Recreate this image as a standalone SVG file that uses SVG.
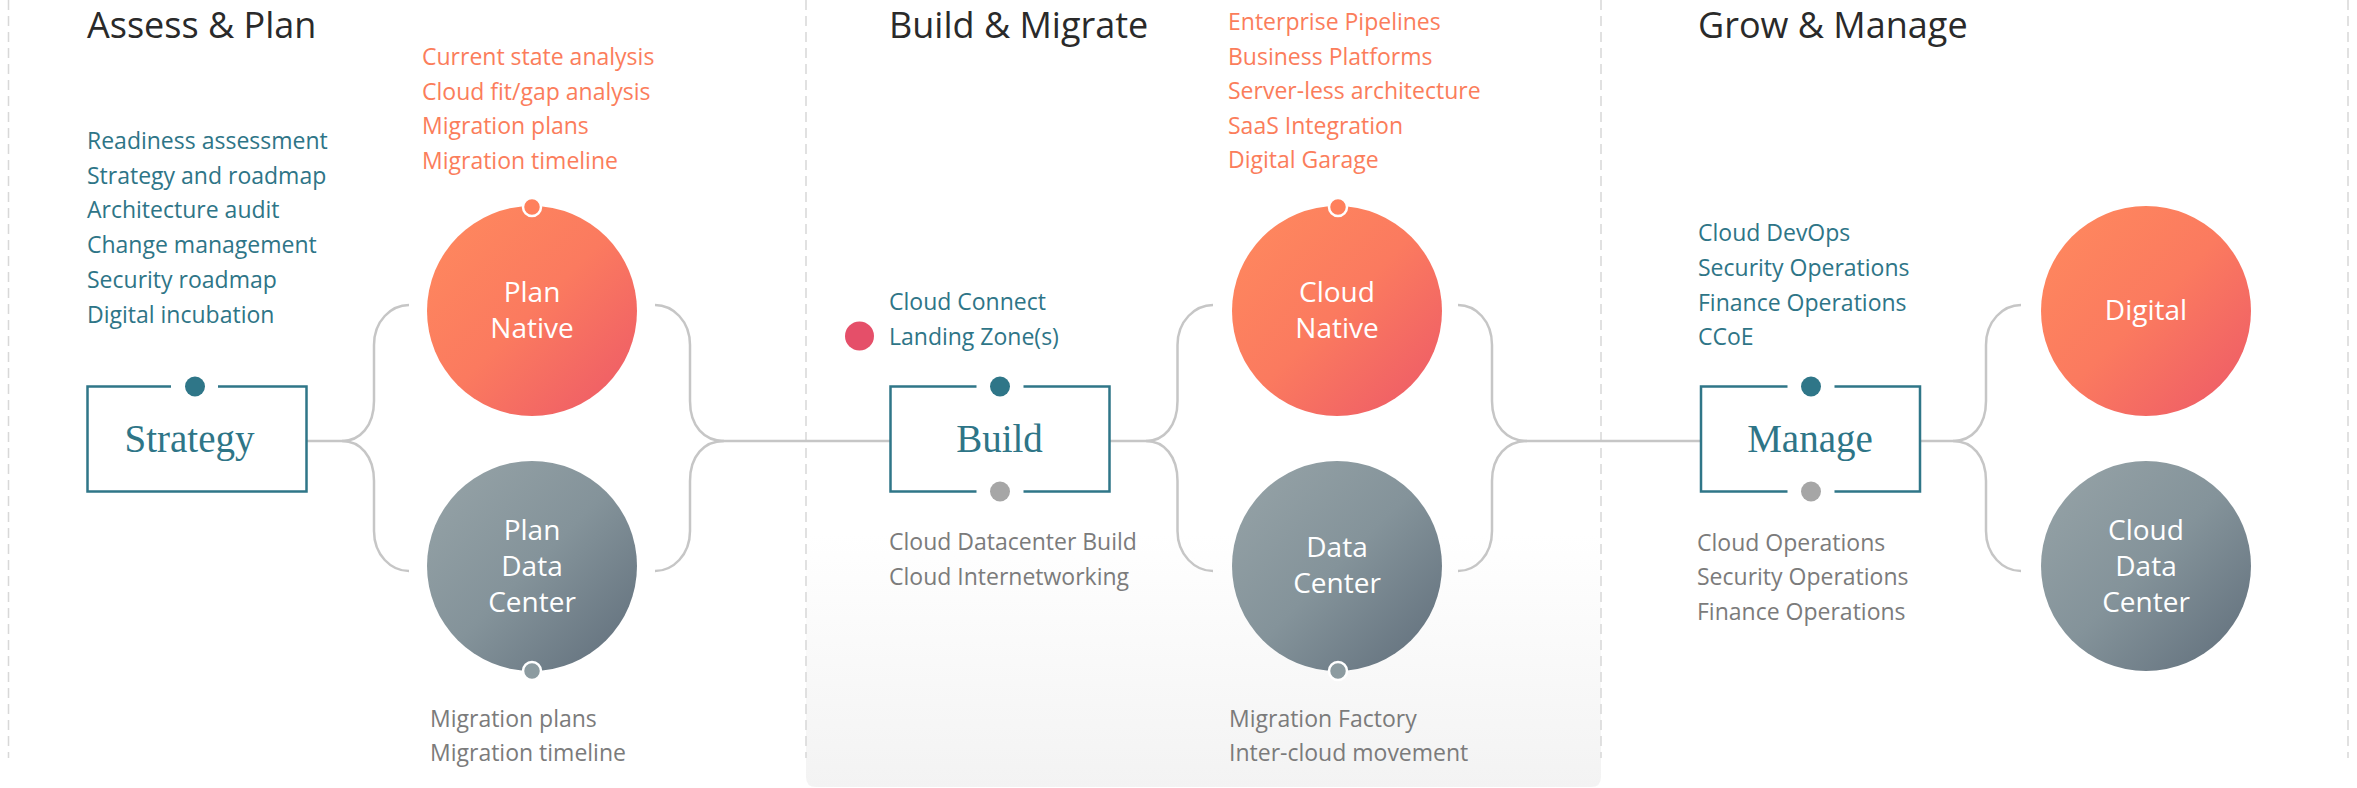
<svg xmlns="http://www.w3.org/2000/svg" width="2357" height="788" viewBox="0 0 2357 788">
<style>
.title{font-family:"Open Sans","Liberation Sans",sans-serif;font-size:36px;fill:#2a2a2a}
.li{font-family:"Open Sans","Liberation Sans",sans-serif;font-size:23px}
.teal{fill:#2e7587}
.orange{fill:#fb7d5b}
.gray{fill:#7b7b7b}
.ctext{font-family:"Open Sans","Liberation Sans",sans-serif;font-size:28px;fill:#ffffff;text-anchor:middle}
.btext{font-family:"Liberation Serif","DejaVu Serif",serif;font-size:39px;fill:#2e7587;text-anchor:middle}
.box{fill:none;stroke:#2f7688;stroke-width:2.5}
.conn{fill:none;stroke:#c6c6c6;stroke-width:2.5}
.dash{stroke:#d8d8d8;stroke-width:1.5;stroke-dasharray:10 6}
.dteal{fill:#2f7688}
.dgray{fill:#a6a6a6}
</style>
<defs>
<linearGradient id="gOrange" x1="0" y1="0" x2="1" y2="1">
<stop offset="0" stop-color="#ff8a5e"/>
<stop offset="0.5" stop-color="#fb7a5f"/>
<stop offset="1" stop-color="#ec5868"/>
</linearGradient>
<linearGradient id="gGray" x1="0" y1="0" x2="1" y2="1">
<stop offset="0" stop-color="#97a4a8"/>
<stop offset="0.5" stop-color="#84939a"/>
<stop offset="1" stop-color="#5f6d7a"/>
</linearGradient>
<linearGradient id="gPanel" x1="0" y1="0" x2="0" y2="1">
<stop offset="0" stop-color="#ffffff"/>
<stop offset="0.68" stop-color="#ffffff"/>
<stop offset="1" stop-color="#f3f3f3"/>
</linearGradient>
</defs>

<rect width="2357" height="788" fill="#ffffff"/>
<path d="M806,0 H1601 V777 Q1601,787 1591,787 H816 Q806,787 806,777 Z" fill="url(#gPanel)"/>

<g id="dividers">
<line class="dash" x1="8.5" y1="0" x2="8.5" y2="758"/>
<line class="dash" x1="806" y1="0" x2="806" y2="758"/>
<line class="dash" x1="1601" y1="0" x2="1601" y2="758"/>
<line class="dash" x1="2348" y1="0" x2="2348" y2="758"/>
</g>

<g id="titles">
<text class="title" x="87" y="38">Assess &amp; Plan</text>
<text class="title" x="889" y="38">Build &amp; Migrate</text>
<text class="title" x="1698" y="38">Grow &amp; Manage</text>
</g>

<g id="connectors">
<path class="conn" d="M306.5,441 H342"/>
<path class="conn" d="M409,305 C391,305 374,321 374,345 V401 C374,426 360,441 342,441"/>
<path class="conn" d="M342,441 C360,441 374,456 374,481 V531 C374,555 391,571 409,571"/>
<path class="conn" d="M655,305 C673,305 690,321 690,345 V401 C690,426 704,441 724,441"/>
<path class="conn" d="M724,441 C704,441 690,456 690,481 V531 C690,555 673,571 655,571"/>
<path class="conn" d="M724,441 H890.5"/>
<path class="conn" d="M1109.5,441 H1146"/>
<path class="conn" d="M1213,305 C1195,305 1177.5,321 1177.5,345 V401 C1177.5,426 1164,441 1146,441"/>
<path class="conn" d="M1146,441 C1164,441 1177.5,456 1177.5,481 V531 C1177.5,555 1195,571 1213,571"/>
<path class="conn" d="M1458,305 C1476,305 1492,321 1492,345 V401 C1492,426 1507,441 1527,441"/>
<path class="conn" d="M1527,441 C1507,441 1492,456 1492,481 V531 C1492,555 1476,571 1458,571"/>
<path class="conn" d="M1527,441 H1701"/>
<path class="conn" d="M1920,441 H1953"/>
<path class="conn" d="M2021,305 C2003,305 1986,321 1986,345 V401 C1986,426 1972,441 1953,441"/>
<path class="conn" d="M1953,441 C1972,441 1986,456 1986,481 V531 C1986,555 2003,571 2021,571"/>
</g>

<g id="node-strategy">
<path class="box" d="M171,386.5 H87.5 V491.5 H306.5 V386.5 H218"/>
<circle class="dteal" cx="195" cy="386.5" r="10"/>
<text class="btext" x="189.5" y="452">Strategy</text>
</g>

<g id="list-assess">
<text class="li teal" x="87" y="149">Readiness assessment</text>
<text class="li teal" x="87" y="184">Strategy and roadmap</text>
<text class="li teal" x="87" y="218">Architecture audit</text>
<text class="li teal" x="87" y="253">Change management</text>
<text class="li teal" x="87" y="288">Security roadmap</text>
<text class="li teal" x="87" y="323">Digital incubation</text>
</g>

<g id="list-plan-native">
<text class="li orange" x="422" y="65">Current state analysis</text>
<text class="li orange" x="422" y="100">Cloud fit/gap analysis</text>
<text class="li orange" x="422" y="134">Migration plans</text>
<text class="li orange" x="422" y="169">Migration timeline</text>
</g>

<g id="node-plan-native">
<circle cx="532" cy="311" r="105" fill="url(#gOrange)"/>
<circle cx="532" cy="207" r="9" fill="#ff805c" stroke="#ffffff" stroke-width="2.5"/>
<text class="ctext" x="532" y="302">Plan</text>
<text class="ctext" x="532" y="338">Native</text>
</g>

<g id="node-plan-datacenter">
<circle cx="532" cy="566" r="105" fill="url(#gGray)"/>
<circle cx="532" cy="671" r="9" fill="#8c9ba0" stroke="#ffffff" stroke-width="2.5"/>
<text class="ctext" x="532" y="540">Plan</text>
<text class="ctext" x="532" y="576">Data</text>
<text class="ctext" x="532" y="612">Center</text>
</g>

<g id="list-plan-datacenter">
<text class="li gray" x="430" y="727">Migration plans</text>
<text class="li gray" x="430" y="761">Migration timeline</text>
</g>

<g id="list-build-top">
<text class="li teal" x="889" y="310">Cloud Connect</text>
<circle cx="859.5" cy="336" r="14.5" fill="#e54f69"/>
<text class="li teal" x="889" y="345">Landing Zone(s)</text>
</g>

<g id="node-build">
<path class="box" d="M976.5,386.5 H890.5 V491.5 H976.5 M1023.5,491.5 H1109.5 V386.5 H1023.5"/>
<circle class="dteal" cx="1000" cy="386.5" r="10"/>
<circle class="dgray" cx="1000" cy="491.5" r="10"/>
<text class="btext" x="999.5" y="452">Build</text>
</g>

<g id="list-build-bottom">
<text class="li gray" x="889" y="550">Cloud Datacenter Build</text>
<text class="li gray" x="889" y="585">Cloud Internetworking</text>
</g>

<g id="list-cloud-native">
<text class="li orange" x="1228" y="30">Enterprise Pipelines</text>
<text class="li orange" x="1228" y="65">Business Platforms</text>
<text class="li orange" x="1228" y="99">Server-less architecture</text>
<text class="li orange" x="1228" y="134">SaaS Integration</text>
<text class="li orange" x="1228" y="168">Digital Garage</text>
</g>

<g id="node-cloud-native">
<circle cx="1337" cy="311" r="105" fill="url(#gOrange)"/>
<circle cx="1338" cy="207" r="9" fill="#ff805c" stroke="#ffffff" stroke-width="2.5"/>
<text class="ctext" x="1337" y="302">Cloud</text>
<text class="ctext" x="1337" y="338">Native</text>
</g>

<g id="node-data-center">
<circle cx="1337" cy="566" r="105" fill="url(#gGray)"/>
<circle cx="1338" cy="671" r="9" fill="#8c9ba0" stroke="#ffffff" stroke-width="2.5"/>
<text class="ctext" x="1337" y="557">Data</text>
<text class="ctext" x="1337" y="593">Center</text>
</g>

<g id="list-data-center">
<text class="li gray" x="1229" y="727">Migration Factory</text>
<text class="li gray" x="1229" y="761">Inter-cloud movement</text>
</g>

<g id="list-manage-top">
<text class="li teal" x="1698" y="241">Cloud DevOps</text>
<text class="li teal" x="1698" y="276">Security Operations</text>
<text class="li teal" x="1698" y="311">Finance Operations</text>
<text class="li teal" x="1698" y="345">CCoE</text>
</g>

<g id="node-manage">
<path class="box" d="M1787.5,386.5 H1701 V491.5 H1787.5 M1834.5,491.5 H1920 V386.5 H1834.5"/>
<circle class="dteal" cx="1811" cy="386.5" r="10"/>
<circle class="dgray" cx="1811" cy="491.5" r="10"/>
<text class="btext" x="1810" y="452">Manage</text>
</g>

<g id="list-manage-bottom">
<text class="li gray" x="1697" y="551">Cloud Operations</text>
<text class="li gray" x="1697" y="585">Security Operations</text>
<text class="li gray" x="1697" y="620">Finance Operations</text>
</g>

<g id="node-digital">
<circle cx="2146" cy="311" r="105" fill="url(#gOrange)"/>
<text class="ctext" x="2146" y="320">Digital</text>
</g>

<g id="node-cloud-datacenter">
<circle cx="2146" cy="566" r="105" fill="url(#gGray)"/>
<text class="ctext" x="2146" y="540">Cloud</text>
<text class="ctext" x="2146" y="576">Data</text>
<text class="ctext" x="2146" y="612">Center</text>
</g>
</svg>
